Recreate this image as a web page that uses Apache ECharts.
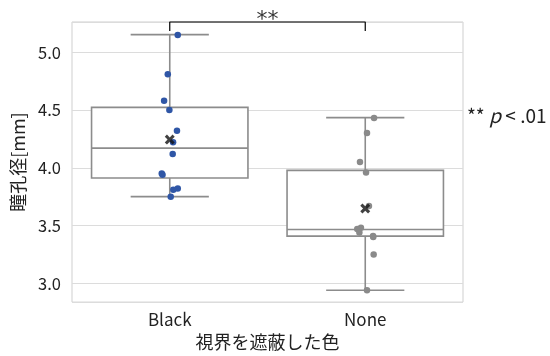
<!DOCTYPE html>
<html><head><meta charset="utf-8">
<script src="https://cdn.jsdelivr.net/npm/echarts@6/dist/echarts.min.js"></script>
<style>html,body{margin:0;padding:0;background:#fff}#c{width:550px;height:356px}</style>
</head><body><div id="c"></div>
<script>
const categories = ['Black', 'None'];
const blackValues = [5.15, 4.81, 4.58, 4.50, 4.32, 4.22, 4.12, 3.95, 3.94, 3.82, 3.81, 3.75];
const blackJitter = [0.041, -0.010, -0.029, -0.002, 0.037, 0.017, 0.015, -0.041, -0.037, 0.041, 0.018, 0.005];
const noneValues = [4.43, 4.30, 4.05, 3.96, 3.67, 3.48, 3.47, 3.44, 3.40, 3.41, 3.25, 2.94];
const noneJitter = [0.045, 0.009, -0.027, 0.004, 0.019, -0.022, -0.041, -0.030, 0.041, 0.040, 0.043, 0.009];
// [lower whisker, Q1, median, Q3, upper whisker]
const boxStats = [[3.75, 3.911, 4.17, 4.523, 5.153], [2.94, 3.408, 3.466, 3.977, 4.434]];
const means = [4.244, 3.647];
const yMin = 2.837, yMax = 5.262;
const bracketLeg = 5.184;
const sigLabel = '**';

const FONT = '"Noto Sans CJK JP", "Noto Sans", sans-serif';
const chart = echarts.init(document.getElementById('c'), null, {renderer: 'canvas'});
const xMark = 'path://M3.6,0H6.4V3.6H10V6.4H6.4V10H3.6V6.4H0V3.6H3.6Z';
const BOX_COLOR = '#8c8c8c';

function renderBox(params, api) {
  const i = api.value(0);
  const lo = api.coord([i, api.value(1)]);
  const q1 = api.coord([i, api.value(2)]);
  const med = api.coord([i, api.value(3)]);
  const q3 = api.coord([i, api.value(4)]);
  const hi = api.coord([i, api.value(5)]);
  const bw = api.size([1, 0])[0] * 0.8;
  const cx = lo[0];
  const cw = bw / 2;
  const st = {stroke: BOX_COLOR, lineWidth: 1.6, fill: null};
  return {
    type: 'group',
    children: [
      {type: 'line', shape: {x1: cx, y1: q3[1], x2: cx, y2: hi[1]}, style: st},
      {type: 'line', shape: {x1: cx, y1: q1[1], x2: cx, y2: lo[1]}, style: st},
      {type: 'line', shape: {x1: cx - cw / 2, y1: hi[1], x2: cx + cw / 2, y2: hi[1]}, style: st},
      {type: 'line', shape: {x1: cx - cw / 2, y1: lo[1], x2: cx + cw / 2, y2: lo[1]}, style: st},
      {type: 'rect', shape: {x: cx - bw / 2, y: q3[1], width: bw, height: q1[1] - q3[1]},
        style: {stroke: BOX_COLOR, lineWidth: 1.6, fill: '#fff'}},
      {type: 'line', shape: {x1: cx - bw / 2, y1: med[1], x2: cx + bw / 2, y2: med[1]}, style: st}
    ]
  };
}

chart.setOption({
  animation: false,
  backgroundColor: '#fff',
  textStyle: {fontFamily: FONT},
  title: {
    text: '{a|** }{b|p}{a| < }{c|.01}',
    left: 467, top: 106, padding: 0,
    textStyle: {
      fontWeight: 'normal',
      rich: {
        a: {fontFamily: FONT, fontSize: 19, color: '#222', fontWeight: 'normal'},
        b: {fontFamily: FONT, fontSize: 19.5, color: '#222', fontStyle: 'italic', fontWeight: 'normal'},
        c: {fontFamily: FONT, fontSize: 19, color: '#222', fontWeight: 'normal'}
      }
    }
  },
  grid: {left: 72, right: 87, top: 22, bottom: 52, show: true, borderColor: '#cfcfcf', borderWidth: 1},
  xAxis: [
    {
      type: 'category', data: categories,
      name: '視界を遮蔽した色', nameLocation: 'middle', nameGap: 30,
      nameTextStyle: {fontSize: 18, color: '#222', fontFamily: FONT},
      axisLine: {show: false}, axisTick: {show: false},
      axisLabel: {fontSize: 17, color: '#222', margin: 9, fontFamily: FONT},
      splitLine: {show: false}
    },
    {type: 'value', min: -0.5, max: 1.5, show: false}
  ],
  yAxis: {
    type: 'value', min: yMin, max: yMax, splitNumber: 5,
    name: '瞳孔径[mm]', nameLocation: 'middle', nameGap: 42,
    nameTextStyle: {fontSize: 18, color: '#222', fontFamily: FONT},
    axisLine: {show: false}, axisTick: {show: false},
    axisLabel: {fontSize: 16.5, color: '#222', margin: 11, showMinLabel: false, showMaxLabel: false, fontFamily: FONT,
      formatter: v => v.toFixed(1)},
    splitLine: {show: true, lineStyle: {color: '#dcdcdc', width: 1}}
  },
  series: [
    {
      type: 'custom', xAxisIndex: 0, renderItem: renderBox, z: 2,
      encode: {x: 0, y: [1, 2, 3, 4, 5]},
      data: boxStats.map((s, i) => [i].concat(s))
    },
    {
      type: 'scatter', xAxisIndex: 1, symbolSize: 6.5, z: 3,
      itemStyle: {color: '#2f56a6', opacity: 1},
      data: blackValues.map((v, i) => [0 + blackJitter[i], v])
    },
    {
      type: 'scatter', xAxisIndex: 1, symbolSize: 6.5, z: 3,
      itemStyle: {color: '#8a8a8a', opacity: 1},
      data: noneValues.map((v, i) => [1 + noneJitter[i], v])
    },
    {
      type: 'scatter', xAxisIndex: 1, symbol: xMark, symbolSize: 11, symbolRotate: 45, z: 4,
      itemStyle: {color: '#111'},
      data: means.map((m, i) => [i, m])
    },
    {
      type: 'line', xAxisIndex: 1, symbol: 'none', clip: false, z: 5,
      lineStyle: {color: '#000', width: 1.2},
      data: [[0, bracketLeg], [0, yMax], [1, yMax], [1, bracketLeg]]
    },
    {
      type: 'scatter', xAxisIndex: 1, symbolSize: 0, clip: false, z: 5,
      label: {show: true, position: 'top', distance: -9, formatter: sigLabel, fontSize: 22, color: '#000', fontFamily: 'DejaVu Sans'},
      data: [[0.5, yMax]]
    }
  ]
});
</script></body></html>
